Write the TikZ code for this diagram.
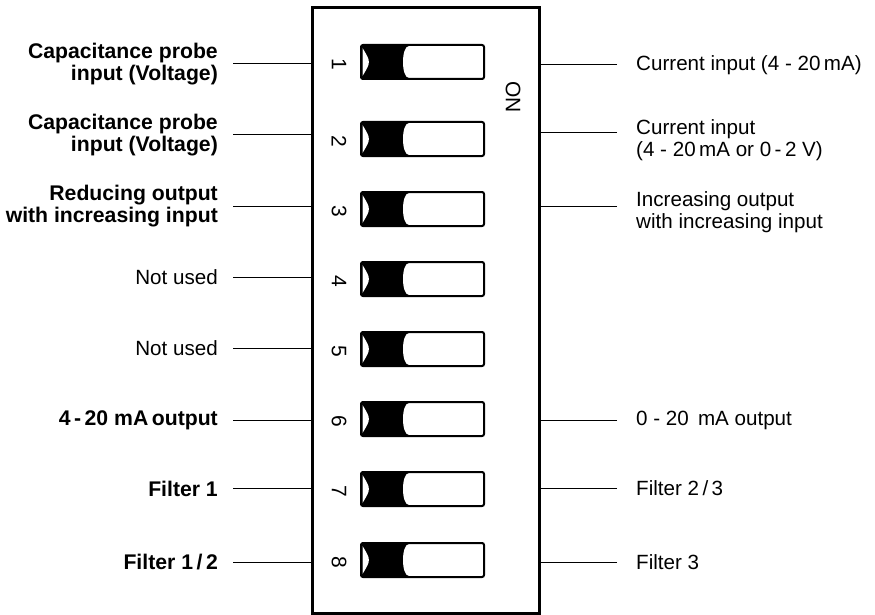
\documentclass[tikz,border=0pt]{standalone}
\usepackage{fontspec}
\setmainfont{Liberation Sans}
\begin{document}
\begin{tikzpicture}[x=1pt,y=-1pt,
  lbl/.style={inner sep=0pt, font=\fontsize{21.2}{21.7}\selectfont\bfseries, align=right, anchor=east},
  rlbl/.style={inner sep=0pt, font=\fontsize{20.6}{22}\selectfont, align=left, anchor=west},
  num/.style={inner sep=0pt, font=\fontsize{21}{22}\selectfont, rotate=-90},
  conn/.style={line width=1pt},
  swbox/.style={line width=2pt, rounded corners=2pt}]
\useasboundingbox (0,0) rectangle (875,615);
\node[draw, line width=3pt, minimum width=227pt, minimum height=605pt, inner sep=0pt] (box) at (425.5,310.5) {};

% switches
\foreach \i/\c in {1/62,2/139,3/209,4/279,5/349,6/419,7/489,8/560}{
  \fill[rounded corners=2pt] (361,\c-17) rectangle (410,\c+17);
  \fill[white] (362.5,\c-14) .. controls (371,\c) .. (362.5,\c+14) -- cycle;
  \fill[white] (413,\c-16) -- (409,\c-16) .. controls (401,\c-16) and (401,\c+16) .. (409,\c+16) -- (413,\c+16) -- cycle;
  \draw[swbox] (361,\c-17) rectangle (484,\c+17);
  \node[num] (n\i) at (339,\c+2) {\i};
}
\node[num] (on) at (513,97) {ON};

% left labels
\node[lbl] (t1) at (218,64) {Capacitance probe\\input (Voltage)};
\node[lbl] (t2) at (218,135) {Capacitance probe\\input (Voltage)};
\node[lbl] (t3) at (218,206) {Reducing output\\with increasing input};
\node[lbl, font=\fontsize{20.6}{22}\selectfont] (t4) at (218,277) {Not used};
\node[lbl, font=\fontsize{20.6}{22}\selectfont] (t5) at (218,348) {Not used};
\node[lbl] (t6) at (218,420) {4\,-\,20 mA\,output};
\node[lbl] (t7) at (218,489) {Filter 1};
\node[lbl] (t8) at (218,562) {Filter 1\,/\,2};

\foreach \i/\y in {1/64,2/135,3/206,4/277,5/348,6/420,7/488,8/562}{
  \coordinate (l\i) at (233,\y);
  \draw[conn] (l\i) -- (l\i -| box.west);
}

% right labels
\node[rlbl] (r1) at (636,65) {Current input (4 - 20\,mA)};
\node[rlbl] (r2) at (636,140) {Current input\\(4 - 20\,mA or 0\,-\,2 V)};
\node[rlbl] (r3) at (636,212) {Increasing output\\with increasing input};
\node[rlbl] (r6) at (636,420) {0 - 20\, mA output};
\node[rlbl] (r7) at (636,488) {Filter 2\,/\,3};
\node[rlbl] (r8) at (636,562) {Filter 3};

\foreach \i/\y in {1/65,2/133,3/206,6/420,7/488,8/562}{
  \coordinate (q\i) at (617,\y);
  \draw[conn] (q\i) -- (q\i -| box.east);
}
\end{tikzpicture}
\end{document}
